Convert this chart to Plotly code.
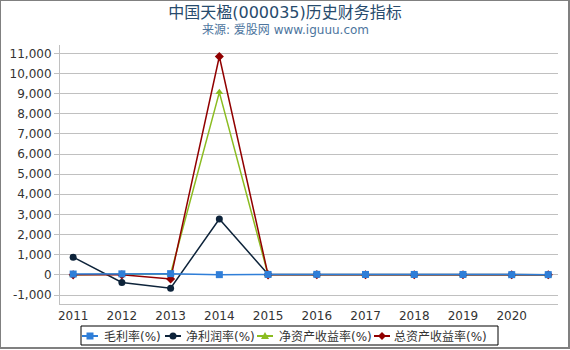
import plotly.graph_objects as go

x_pos = [2011, 2012, 2013, 2014, 2015, 2016, 2017, 2018, 2019, 2020, 2020.75]
tick_years = [2011, 2012, 2013, 2014, 2015, 2016, 2017, 2018, 2019, 2020]
tick_year_labels = [str(y) for y in tick_years]

gross_margin = [40, 50, 60, 10, 20, 25, 20, 20, 20, 10, 10]
net_margin = [880, -380, -660, 2770, 30, 30, 20, 15, 15, 10, 10]
roe = [0, 30, 50, 9060, 0, 10, 5, 5, 5, 5, 5]
roa = [0, 0, -200, 10840, 0, 5, 5, 5, 5, 5, 5]

series_names = ["毛利率(%)", "净利润率(%)", "净资产收益率(%)", "总资产收益率(%)"]
series_colors = ["#2f7ed8", "#0d233a", "#8bbc21", "#910000"]

y_ticks = [-1000, 0, 1000, 2000, 3000, 4000, 5000, 6000, 7000, 8000, 9000, 10000, 11000]
y_tick_labels = ["-1,000", "0", "1,000", "2,000", "3,000", "4,000", "5,000", "6,000",
                 "7,000", "8,000", "9,000", "10,000", "11,000"]

font = "DejaVu Sans, Noto Sans CJK SC, sans-serif"

# plot area in pixels
PL, PR, PT, PB = 60, 558, 45, 304


def px2x(px):
    return (px - PL) / (PR - PL)


def py2y(py):
    return (PB - py) / (PB - PT)


fig = go.Figure()
draw = [(1, net_margin, "circle"), (2, roe, "triangle-up"), (3, roa, "diamond"),
        (0, gross_margin, "square")]
for idx, vals, sym in draw:
    fig.add_trace(go.Scatter(x=x_pos, y=vals, name=series_names[idx], mode="lines+markers",
                             line=dict(color=series_colors[idx], width=1.5),
                             marker=dict(symbol=sym, size=7, color=series_colors[idx]),
                             showlegend=False, hoverinfo="x+y+name"))

shapes = []
annotations = []

# outer frame
shapes.append(dict(type="rect", xref="paper", yref="paper",
                   x0=px2x(0), x1=px2x(569), y0=py2y(0), y1=py2y(348),
                   line=dict(color="#808080", width=2), layer="above"))
# legend box
shapes.append(dict(type="rect", xref="paper", yref="paper",
                   x0=px2x(81), x1=px2x(498), y0=py2y(326), y1=py2y(345),
                   line=dict(color="#000000", width=1), fillcolor="white", layer="above"))

marker_cx = [90, 173, 265, 382]
text_x = [102, 184, 277, 392]
ly = 336
legend_syms = ["square", "circle", "triangle", "diamond"]
for i in range(4):
    cx = marker_cx[i]
    col = series_colors[i]
    shapes.append(dict(type="line", xref="paper", yref="paper",
                       x0=px2x(cx - 8), x1=px2x(cx + 8), y0=py2y(ly), y1=py2y(ly),
                       line=dict(color=col, width=2), layer="above"))
    s = legend_syms[i]
    if s == "square":
        shapes.append(dict(type="rect", xref="paper", yref="paper",
                           x0=px2x(cx - 3.5), x1=px2x(cx + 3.5), y0=py2y(ly - 3.5), y1=py2y(ly + 3.5),
                           line=dict(width=0), fillcolor=col, layer="above"))
    elif s == "circle":
        shapes.append(dict(type="circle", xref="paper", yref="paper",
                           x0=px2x(cx - 3.5), x1=px2x(cx + 3.5), y0=py2y(ly - 3.5), y1=py2y(ly + 3.5),
                           line=dict(width=0), fillcolor=col, layer="above"))
    elif s == "triangle":
        path = "M {} {} L {} {} L {} {} Z".format(px2x(cx), py2y(ly - 4), px2x(cx - 4), py2y(ly + 3),
                                                   px2x(cx + 4), py2y(ly + 3))
        shapes.append(dict(type="path", xref="paper", yref="paper", path=path,
                           line=dict(width=0), fillcolor=col, layer="above"))
    else:
        path = "M {} {} L {} {} L {} {} L {} {} Z".format(px2x(cx), py2y(ly - 4), px2x(cx + 4), py2y(ly),
                                                         px2x(cx), py2y(ly + 4), px2x(cx - 4), py2y(ly))
        shapes.append(dict(type="path", xref="paper", yref="paper", path=path,
                           line=dict(width=0), fillcolor=col, layer="above"))
    annotations.append(dict(text=series_names[i], x=px2x(text_x[i]), xref="paper", xanchor="left",
                            y=py2y(ly), yref="paper", yanchor="middle", showarrow=False,
                            font=dict(size=12, color="#333333", family=font)))

annotations.append(dict(text="来源: 爱股网 www.iguuu.com", x=px2x(285), xref="paper", xanchor="center",
                        y=py2y(30), yref="paper", yanchor="middle",
                        showarrow=False, font=dict(size=12, color="#4d759e", family=font)))

fig.update_layout(
    width=570, height=350,
    margin=dict(l=PL, r=570 - PR, t=PT, b=350 - PB, autoexpand=False),
    paper_bgcolor="white", plot_bgcolor="white",
    font=dict(family=font, size=11, color="#333333"),
    title=dict(text="中国天楹(000035)历史财务指标", x=0.5, xanchor="center",
               y=1 - 12 / 350, yanchor="middle", yref="container",
               font=dict(size=16, color="#274b6d", family=font)),
    showlegend=False,
    shapes=shapes,
    annotations=annotations,
)
fig.update_xaxes(range=[2010.73, 2020.95], tickvals=tick_years, ticktext=tick_year_labels,
                 showgrid=False, showline=True, linecolor="#c0c0c0", linewidth=1,
                 ticks="outside", ticklen=1, tickcolor="rgba(0,0,0,0)", zeroline=False,
                 tickfont=dict(size=12, color="#333333"))
fig.update_yaxes(range=[-1447, 11412], tickvals=y_ticks, ticktext=y_tick_labels,
                 showgrid=True, gridcolor="#c0c0c0", gridwidth=1,
                 showline=True, linecolor="#c0c0c0", linewidth=1,
                 ticks="outside", ticklen=5, tickcolor="#c0c0c0", zeroline=False,
                 tickfont=dict(size=12, color="#333333"))

fig.write_html("out.html")
